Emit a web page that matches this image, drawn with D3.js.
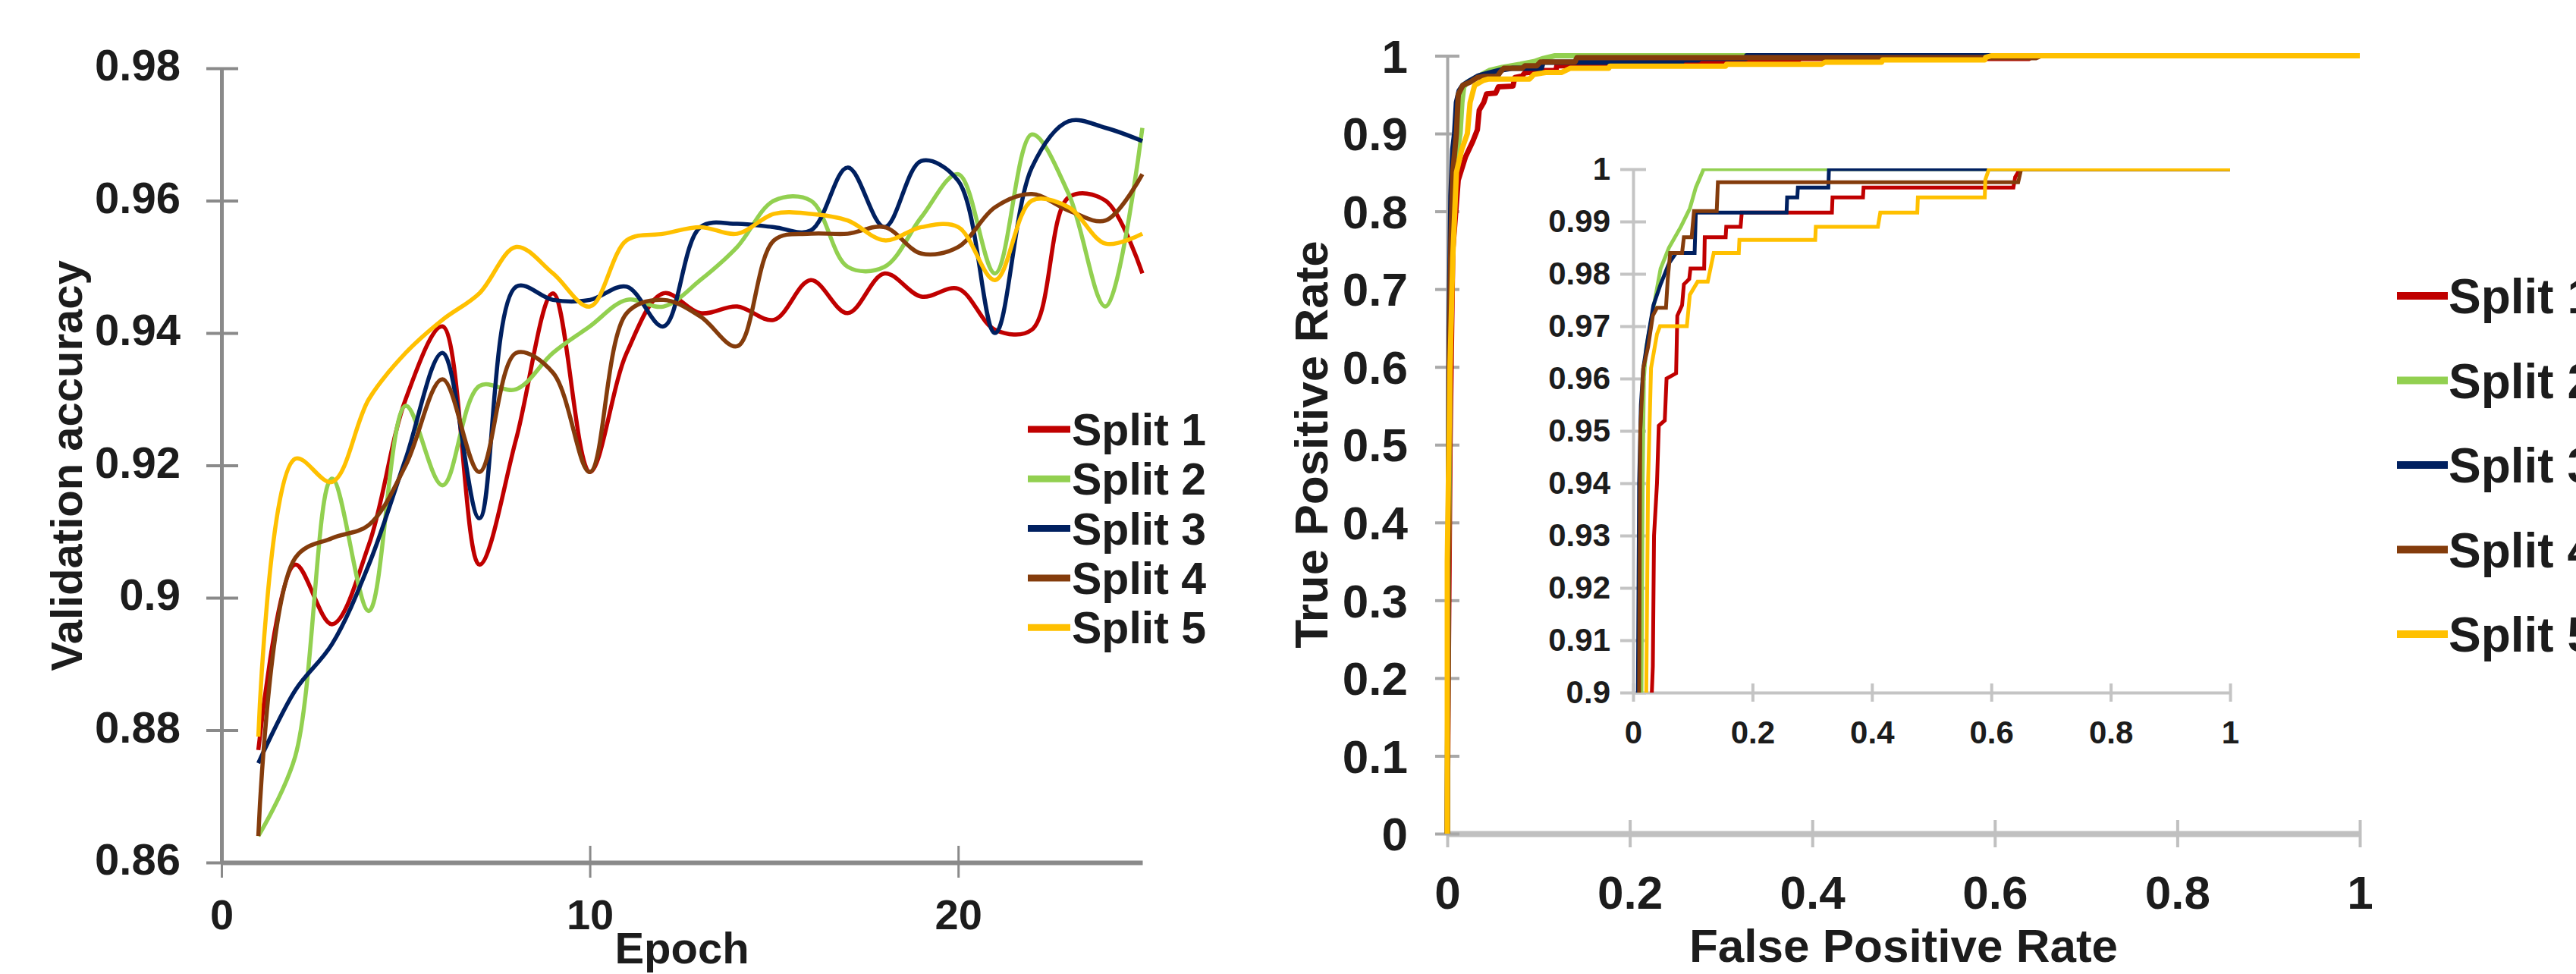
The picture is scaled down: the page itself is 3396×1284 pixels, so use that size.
<!DOCTYPE html>
<html>
<head>
<meta charset="utf-8">
<script src="https://cdn.jsdelivr.net/npm/d3@7"></script>
<style>
  body { margin: 0; background: #fff; }
  text { font-family: "Liberation Sans", Arial, sans-serif; font-weight: bold; fill: #1c1c1c; }
</style>
</head>
<body>
<svg id="chart"></svg>
<script>
// ---- data ----
var splitNames  = ["Split 1", "Split 2", "Split 3", "Split 4", "Split 5"];
var splitColors = ["#c00000", "#92d050", "#002060", "#843c0c", "#ffc000"];

var epochs = [1,2,3,4,5,6,7,8,9,10,11,12,13,14,15,16,17,18,19,20,21,22,23,24,25];
var accSplit1 = [0.877,0.905,0.896,0.908,0.930,0.941,0.905,0.924,0.946,0.919,0.937,0.946,0.943,0.944,0.942,0.948,0.943,0.949,0.9455,0.9467,0.9405,0.9405,0.9605,0.960,0.949];
var accSplit2 = [0.864,0.876,0.918,0.898,0.929,0.917,0.932,0.9315,0.937,0.941,0.945,0.944,0.948,0.953,0.960,0.960,0.950,0.950,0.9575,0.964,0.949,0.970,0.961,0.944,0.971];
var accSplit3 = [0.875,0.886,0.893,0.905,0.921,0.937,0.912,0.947,0.945,0.945,0.947,0.941,0.956,0.9565,0.956,0.9555,0.965,0.956,0.966,0.963,0.940,0.965,0.972,0.971,0.969];
var accSplit4 = [0.864,0.906,0.909,0.911,0.920,0.933,0.919,0.937,0.934,0.919,0.943,0.945,0.9425,0.938,0.954,0.955,0.955,0.956,0.952,0.953,0.959,0.961,0.9585,0.957,0.964];
var accSplit5 = [0.879,0.921,0.9175,0.930,0.937,0.942,0.946,0.953,0.949,0.944,0.954,0.955,0.956,0.955,0.958,0.958,0.957,0.954,0.956,0.956,0.948,0.960,0.959,0.9535,0.955];

// ROC points [false positive rate, true positive rate]
var rocSplit1 = [[0,0],[0.001,0.2],[0.003,0.5],[0.006,0.75],[0.012,0.84],[0.02,0.87],[0.028,0.89],[0.033,0.905],[0.035,0.93],[0.040,0.940],[0.043,0.951],[0.053,0.952],[0.056,0.960],[0.072,0.961],[0.074,0.972],[0.082,0.974],[0.085,0.978],[0.094,0.979],[0.096,0.981],[0.119,0.981],[0.120,0.987],[0.155,0.987],[0.156,0.989],[0.180,0.989],[0.182,0.9917],[0.333,0.9917],[0.334,0.9946],[0.385,0.9946],[0.386,0.9965],[0.637,0.9965],[0.640,0.9985],[0.648,1],[1,1]];
var rocSplit2 = [[0,0],[0.001,0.3],[0.003,0.6],[0.006,0.8],[0.010,0.87],[0.014,0.90],[0.016,0.94],[0.018,0.96],[0.022,0.966],[0.030,0.971],[0.038,0.976],[0.046,0.981],[0.060,0.985],[0.080,0.989],[0.095,0.9925],[0.105,0.9965],[0.118,1],[1,1]];
var rocSplit3 = [[0,0],[0.001,0.35],[0.002,0.65],[0.004,0.82],[0.006,0.88],[0.008,0.90],[0.010,0.94],[0.013,0.955],[0.017,0.962],[0.025,0.968],[0.034,0.974],[0.046,0.978],[0.060,0.982],[0.072,0.984],[0.103,0.984],[0.105,0.9917],[0.257,0.9917],[0.258,0.9946],[0.275,0.9946],[0.276,0.9965],[0.327,0.9965],[0.328,1],[1,1]];
var rocSplit4 = [[0,0],[0.001,0.3],[0.002,0.6],[0.004,0.76],[0.006,0.85],[0.010,0.90],[0.012,0.95],[0.017,0.962],[0.025,0.966],[0.033,0.972],[0.040,0.9735],[0.055,0.9735],[0.058,0.979],[0.062,0.984],[0.082,0.984],[0.085,0.987],[0.098,0.987],[0.102,0.992],[0.140,0.992],[0.142,0.9975],[0.645,0.9975],[0.650,1],[1,1]];
var rocSplit5 = [[0,0],[0,0.35],[0.003,0.6],[0.006,0.74],[0.010,0.85],[0.016,0.88],[0.022,0.90],[0.025,0.94],[0.030,0.962],[0.040,0.9685],[0.045,0.970],[0.090,0.970],[0.095,0.976],[0.108,0.9785],[0.125,0.9785],[0.135,0.984],[0.177,0.984],[0.178,0.9865],[0.305,0.9865],[0.306,0.989],[0.410,0.989],[0.414,0.9917],[0.476,0.9917],[0.477,0.9946],[0.589,0.9946],[0.590,0.998],[0.596,1],[1,1]];

var accTicks      = [0.86, 0.88, 0.9, 0.92, 0.94, 0.96, 0.98];
var epochTicks    = [0, 10, 20];
var tprTicks      = [0, 0.1, 0.2, 0.3, 0.4, 0.5, 0.6, 0.7, 0.8, 0.9, 1];
var fprTicks      = [0, 0.2, 0.4, 0.6, 0.8, 1];
var insetTprTicks = [0.9, 0.91, 0.92, 0.93, 0.94, 0.95, 0.96, 0.97, 0.98, 0.99, 1];

var accSeries = [accSplit1, accSplit2, accSplit3, accSplit4, accSplit5];
var rocSeries = [rocSplit1, rocSplit2, rocSplit3, rocSplit4, rocSplit5];

// ---- svg ----
var width = 3396, height = 1284;
var svg = d3.select('#chart')
            .attr('width', width)
            .attr('height', height)
            .style('background', '#fff');

var fmt = d3.format('~g');

function styleAxis(g, color, domainWidth, fontSize, dy) {
  g.select('.domain').attr('stroke', color).attr('stroke-width', domainWidth);
  g.selectAll('.tick line').attr('stroke', color).attr('stroke-width', 4);
  g.selectAll('.tick text')
   .style('font-size', fontSize + 'px')
   .style('font-family', '"Liberation Sans", Arial, sans-serif')
   .style('font-weight', 'bold')
   .attr('fill', '#1c1c1c');
  if (dy) g.selectAll('.tick text').attr('dy', dy);
}

// ================= left chart: validation accuracy =================
var xL = d3.scaleLinear().domain([0, 25]).range([292, 1506]);
var yL = d3.scaleLinear().domain([0.86, 0.98]).range([1137, 90]);

var gLy = svg.append('g')
             .attr('transform', 'translate(' + xL(0) + ',0)')
             .call(d3.axisLeft(yL).tickValues(accTicks).tickSize(20).tickSizeOuter(0).tickPadding(34).tickFormat(fmt));
gLy.selectAll('.tick line').attr('x1', 22);
styleAxis(gLy, '#8a8a8a', 5, 58, '0.27em');

var gLx = svg.append('g')
             .attr('transform', 'translate(0,' + yL(0.86) + ')')
             .call(d3.axisBottom(xL).tickValues(epochTicks).tickSize(20).tickSizeOuter(0).tickPadding(28).tickFormat(fmt));
gLx.selectAll('.tick line').attr('y1', -22);
styleAxis(gLx, '#8a8a8a', 6, 56);
gLx.selectAll('.tick line').attr('stroke-width', 3);

var accLine = d3.line()
                .x(function (d, i) { return xL(epochs[i]); })
                .y(function (d) { return yL(d); })
                .curve(d3.curveCatmullRom);

svg.append('g').selectAll('path')
   .data(accSeries)
   .enter()
   .append('path')
   .attr('d', accLine)
   .attr('fill', 'none')
   .attr('stroke', function (d, i) { return splitColors[i]; })
   .attr('stroke-width', 5.5)
   .attr('stroke-linejoin', 'round');

svg.append('text')
   .attr('x', (xL(0) + xL(25)) / 2)
   .attr('y', 1270)
   .attr('text-anchor', 'middle')
   .style('font-size', '58px')
   .text('Epoch');

svg.append('text')
   .attr('transform', 'translate(108,614) rotate(-90)')
   .attr('text-anchor', 'middle')
   .style('font-size', '58px')
   .text('Validation accuracy');

var legL = svg.append('g').selectAll('g')
              .data(splitNames)
              .enter()
              .append('g')
              .attr('transform', function (d, i) { return 'translate(1355,' + (566 + i * 65.3) + ')'; });
legL.append('line')
    .attr('x1', 0).attr('x2', 56)
    .attr('stroke', function (d, i) { return splitColors[i]; })
    .attr('stroke-width', 9);
legL.append('text')
    .attr('x', 58).attr('y', 21)
    .style('font-size', '59px')
    .text(function (d) { return d; });

// ================= right chart: ROC =================
var xR = d3.scaleLinear().domain([0, 1]).range([1908, 3111]);
var yR = d3.scaleLinear().domain([0, 1]).range([1099, 73.5]);

var gRx = svg.append('g')
             .attr('transform', 'translate(0,' + yR(0) + ')')
             .call(d3.axisBottom(xR).tickValues(fprTicks).tickSize(18).tickSizeOuter(0).tickPadding(37).tickFormat(fmt));
gRx.selectAll('.tick line').attr('y1', -18);
styleAxis(gRx, '#c0c0c0', 8, 62);

var gRy = svg.append('g')
             .attr('transform', 'translate(' + xR(0) + ',0)')
             .call(d3.axisLeft(yR).tickValues(tprTicks).tickSize(16).tickSizeOuter(0).tickPadding(36).tickFormat(fmt));
gRy.selectAll('.tick line').attr('x1', 16);
styleAxis(gRy, '#a8a8a8', 4, 62, '0.35em');

var rocLine = d3.line()
                .x(function (d) { return xR(d[0]); })
                .y(function (d) { return yR(d[1]); });

svg.append('g').selectAll('path')
   .data(rocSeries)
   .enter()
   .append('path')
   .attr('d', rocLine)
   .attr('fill', 'none')
   .attr('stroke', function (d, i) { return splitColors[i]; })
   .attr('stroke-width', 7)
   .attr('stroke-linejoin', 'round');

svg.append('text')
   .attr('x', (xR(0) + xR(1)) / 2)
   .attr('y', 1268)
   .attr('text-anchor', 'middle')
   .style('font-size', '62px')
   .text('False Positive Rate');

svg.append('text')
   .attr('transform', 'translate(1750,586) rotate(-90)')
   .attr('text-anchor', 'middle')
   .style('font-size', '62px')
   .text('True Positive Rate');

// ---- inset ----
var xI = d3.scaleLinear().domain([0, 1]).range([2153, 2940]);
var yI = d3.scaleLinear().domain([0.9, 1]).range([913, 223]);

var gIx = svg.append('g')
             .attr('transform', 'translate(0,' + yI(0.9) + ')')
             .call(d3.axisBottom(xI).tickValues(fprTicks).tickSize(12).tickSizeOuter(0).tickPadding(25).tickFormat(fmt));
gIx.selectAll('.tick line').attr('y1', -12);
styleAxis(gIx, '#c4c4c4', 4, 42);

var gIy = svg.append('g')
             .attr('transform', 'translate(' + xI(0) + ',0)')
             .call(d3.axisLeft(yI).tickValues(insetTprTicks).tickSize(17).tickSizeOuter(0).tickPadding(13).tickFormat(fmt));
gIy.selectAll('.tick line').attr('x1', 17);
styleAxis(gIy, '#c4c4c4', 4, 42, '0.33em');

svg.append('clipPath').attr('id', 'insetClip')
   .append('rect')
   .attr('x', xI(0) - 2).attr('y', yI(1) - 1)
   .attr('width', xI(1) - xI(0) + 6)
   .attr('height', yI(0.9) - yI(1) + 1);

var insetLine = d3.line()
                  .x(function (d) { return xI(d[0]); })
                  .y(function (d) { return yI(d[1]); });

svg.append('g')
   .attr('clip-path', 'url(#insetClip)')
   .selectAll('path')
   .data(rocSeries)
   .enter()
   .append('path')
   .attr('d', insetLine)
   .attr('fill', 'none')
   .attr('stroke', function (d, i) { return splitColors[i]; })
   .attr('stroke-width', 5)
   .attr('stroke-linejoin', 'miter');

var legR = svg.append('g').selectAll('g')
              .data(splitNames)
              .enter()
              .append('g')
              .attr('transform', function (d, i) { return 'translate(3160,' + (390 + i * 111.5) + ')'; });
legR.append('line')
    .attr('x1', 0).attr('x2', 67)
    .attr('stroke', function (d, i) { return splitColors[i]; })
    .attr('stroke-width', 10);
legR.append('text')
    .attr('x', 68).attr('y', 23)
    .style('font-size', '64px')
    .text(function (d) { return d; });
</script>
</body>
</html>
